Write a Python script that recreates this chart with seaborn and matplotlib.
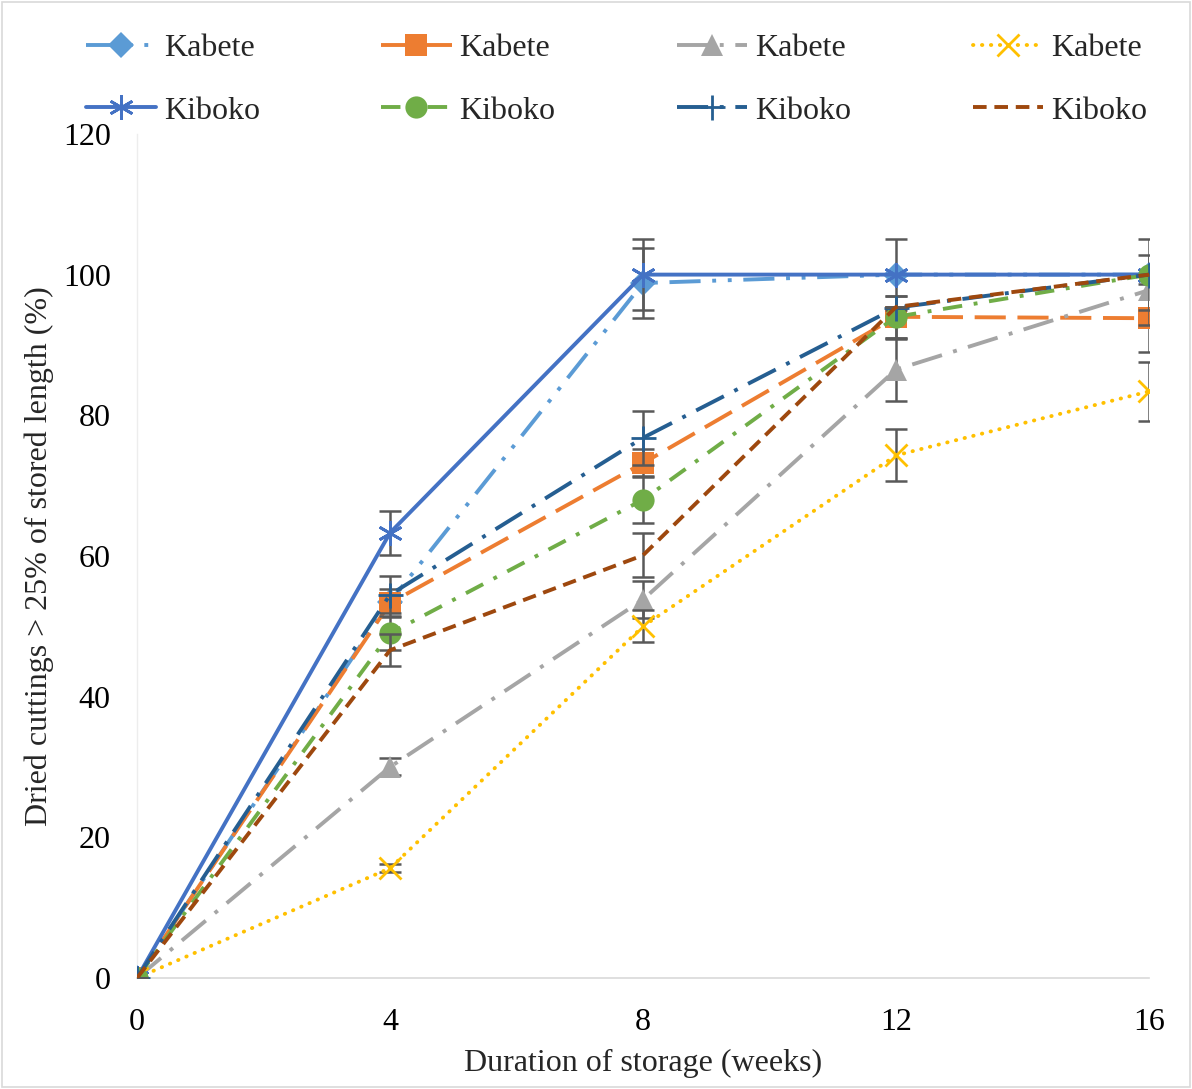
import numpy as np
import pandas as pd
import matplotlib
matplotlib.use("Agg")
import matplotlib.pyplot as plt
import seaborn as sns
from matplotlib.patches import Rectangle


# DATA
weeks = [0, 4, 8, 12, 16]
labels = ["Kabete", "Kabete", "Kabete", "Kabete", "Kiboko", "Kiboko", "Kiboko", "Kiboko"]

kabete_1 = [0, 53.5, 98.8, 100, 100]
kabete_2 = [0, 53.3, 73.2, 94.0, 93.8]
kabete_3 = [0, 30.0, 53.8, 86.5, 97.8]
kabete_4 = [0, 15.6, 50.0, 74.3, 83.4]
kiboko_1 = [0, 63.3, 100, 100, 100]
kiboko_2 = [0, 49.0, 68.0, 94.0, 100]
kiboko_3 = [0, 54.5, 76.8, 95.3, 100]
kiboko_4 = [0, 46.6, 60.1, 95.4, 100]

err_kabete_1 = [0, 0, 5.0, 0, 0]
err_kabete_2 = [0, 2.0, 2.0, 3.0, 4.8]
err_kabete_3 = [0, 1.2, 2.6, 4.4, 5.0]
err_kabete_4 = [0, 0.6, 2.3, 3.7, 4.2]
err_kiboko_1 = [0, 3.1, 5.0, 5.0, 5.0]
err_kiboko_2 = [0, 2.4, 3.3, 3.0, 0]
err_kiboko_3 = [0, 2.6, 3.8, 0, 0]
err_kiboko_4 = [0, 2.3, 3.1, 0, 0]

series = [kabete_1, kabete_2, kabete_3, kabete_4, kiboko_1, kiboko_2, kiboko_3, kiboko_4]
errors = [err_kabete_1, err_kabete_2, err_kabete_3, err_kabete_4,
          err_kiboko_1, err_kiboko_2, err_kiboko_3, err_kiboko_4]

# STYLES (excel office palette)
colors = ["#5B9BD5", "#ED7D31", "#A5A5A5", "#FFC000", "#4472C4", "#70AD47", "#255E91", "#9E480E"]
dashes = [(0, (8, 3, 1, 3, 1, 3)), (0, (8, 3)), (0, (8, 3, 1, 3)), (0, (0.1, 2.2)),
          "-", (0, (5, 3, 1, 3)), (0, (8, 3, 1, 3)), (0, (3.5, 2))]
markers = ["D", "s", "^", "x", (6, 2, 0), "o", "+", None]
msizes = [13, 16, 16, 16, 18, 16, 18, 0]


sns.set_theme(style="white")
plt.rcParams["font.family"] = ["Liberation Serif", "DejaVu Serif"]

fig = plt.figure(figsize=(11.92, 10.89), dpi=100)
ax = fig.add_axes([0.115, 0.102, 0.849, 0.775])

handles = []
for i, vals in enumerate(series):
    df = pd.DataFrame({"week": weeks, "pct": vals})
    ax.errorbar(weeks, vals, yerr=errors[i], fmt="none", ecolor="#595959",
                elinewidth=1.8, capsize=8, capthick=1.8, zorder=2 + i)
    sns.lineplot(data=df, x="week", y="pct", ax=ax, color=colors[i],
                 linestyle=dashes[i], linewidth=2.8,
                 dash_capstyle="round" if i == 3 else "butt",
                 marker=markers[i], markersize=msizes[i],
                 markeredgewidth=2 if markers[i] in ["x", "+", (6, 2, 0)] else 0,
                 markeredgecolor=colors[i], zorder=3 + i)
    handles.append(ax.lines[-1])

# AXES
ax.set_xlim(0, 16)
ax.set_ylim(0, 120)
ax.set_xticks(weeks)
ax.set_yticks(np.arange(0, 121, 20))
ax.tick_params(axis="x", labelsize=23, length=0, pad=22)
ax.tick_params(axis="y", labelsize=23, length=0, pad=19)
ax.set_xlabel("Duration of storage (weeks)", fontsize=23, labelpad=8)
ax.set_ylabel("Dried cuttings > 25% of stored length (%)", fontsize=23, labelpad=6)
for side in ["top", "right"]:
    ax.spines[side].set_visible(False)
ax.spines["bottom"].set_color("#D9D9D9")
ax.spines["left"].set_color("#EDEDED")
ax.spines["bottom"].set_linewidth(1.2)
ax.spines["left"].set_linewidth(1.0)
for t in ax.get_xticklabels() + ax.get_yticklabels():
    t.set_color("black")

# LEGEND (excel order is row-wise)
order = [0, 4, 1, 5, 2, 6, 3, 7]
fig.legend([handles[k] for k in order], [labels[k] for k in order],
           ncol=4, loc="center", bbox_to_anchor=(0.517, 0.927),
           frameon=False, fontsize=23, handlelength=2.2, handletextpad=0.25,
           columnspacing=3.8, labelspacing=1.05, numpoints=1)

# CHART BORDER
fig.patches.append(Rectangle((0.002, 0.002), 0.996, 0.996, transform=fig.transFigure,
                             fill=False, edgecolor="#D9D9D9", linewidth=1.2))

fig.savefig("out.png", dpi=100)
